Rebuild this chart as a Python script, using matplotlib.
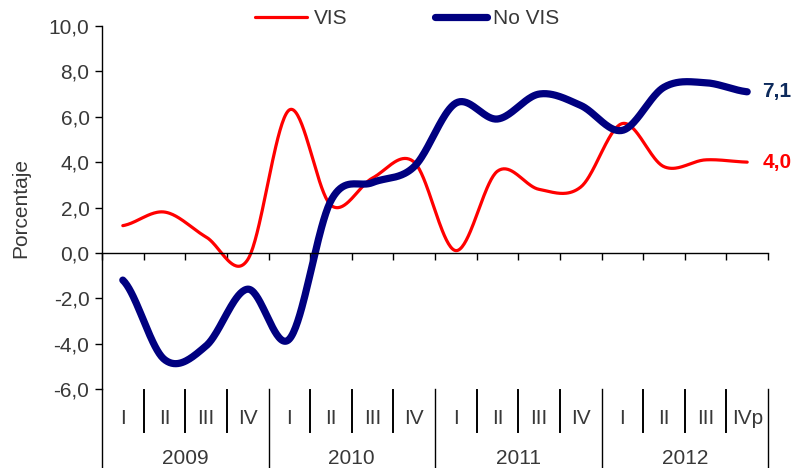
import numpy as np
import matplotlib as mpl

mpl.use("Agg")
import matplotlib.pyplot as plt
from matplotlib.lines import Line2D
from matplotlib.transforms import blended_transform_factory

plt.rcParams["font.family"] = ["Liberation Sans", "DejaVu Sans"]

# data (percent)
quarters = ["I", "II", "III", "IV"] * 3 + ["I", "II", "III", "IVp"]
years = ["2009", "2010", "2011", "2012"]
vis = [1.2, 1.8, 0.7, -0.3, 6.3, 2.1, 3.3, 4.0,
       0.1, 3.6, 2.8, 2.9, 5.7, 3.8, 4.1, 4.0]
no_vis = [-1.2, -4.7, -4.1, -1.6, -3.8, 2.3, 3.1, 3.8,
          6.6, 5.9, 7.0, 6.5, 5.4, 7.3, 7.5, 7.1]

W, H = 794, 468
TXT = "#383838"
FS = 15


def smooth(y, n=40):
    """Catmull-Rom curve through the points (like Excel's smoothed line)."""
    y = np.asarray(y, dtype=float)
    ext = np.r_[y[0], y, y[-1]]
    t = np.linspace(0, 1, n, endpoint=False)
    xs, ys = [], []
    for i in range(len(y) - 1):
        p0, p1, p2, p3 = ext[i:i + 4]
        ys.append(0.5 * (2 * p1 + (p2 - p0) * t + (2 * p0 - 5 * p1 + 4 * p2 - p3) * t ** 2
                         + (3 * p1 - p0 - 3 * p2 + p3) * t ** 3))
        xs.append(i + 0.5 + t)
    xs.append([len(y) - 0.5])
    ys.append([y[-1]])
    return np.concatenate(xs), np.concatenate(ys)


def fy(px):
    return 1 - px / H


fig = plt.figure(figsize=(W / 100, H / 100), dpi=100)
ax = fig.add_axes([102 / W, fy(389), 666 / W, (389 - 26) / H])

x, y = smooth(vis)
ax.plot(x, y, color="#ff0000", lw=2.3, label="VIS", solid_capstyle="round")
x, y = smooth(no_vis)
ax.plot(x, y, color="#000080", lw=5.2, label="No VIS", solid_capstyle="round")

ax.set_xlim(0, len(quarters))
ax.set_ylim(-6, 10)
ax.set_yticks(np.arange(-6, 11, 2))
ax.set_yticklabels([f"{v:.1f}".replace(".", ",") for v in np.arange(-6, 11, 2)])
ax.set_xticks(np.arange(0, len(quarters) + 1))
ax.set_xticklabels([])
ax.tick_params(axis="y", direction="out", length=5, width=1, labelsize=FS,
               labelcolor=TXT, pad=4)
ax.tick_params(axis="x", direction="out", length=5, width=1)
for s in ("top", "right"):
    ax.spines[s].set_visible(False)
ax.spines["bottom"].set_position(("data", 0))
ax.spines["left"].set_linewidth(1)
ax.spines["bottom"].set_linewidth(1)
ax.set_ylabel("Porcentaje", fontsize=FS, color=TXT, labelpad=13)

# end-of-series labels
ax.annotate(f"{no_vis[-1]:.1f}".replace(".", ","), (len(no_vis) - 0.5, no_vis[-1]),
            xytext=(11, 0), textcoords="offset points", va="center",
            fontsize=FS, fontweight="bold", color="#0d2a5c")
ax.annotate(f"{vis[-1]:.1f}".replace(".", ","), (len(vis) - 0.5, vis[-1]),
            xytext=(11, 0), textcoords="offset points", va="center",
            fontsize=FS, fontweight="bold", color="#ff0000")

leg = ax.legend(loc="center", ncol=2, frameon=False, fontsize=FS,
                handlelength=2.5, handletextpad=0.3, columnspacing=4.2,
                bbox_to_anchor=(0.513, fy(19)), bbox_transform=fig.transFigure)
for t in leg.get_texts():
    t.set_color(TXT)

# category table below the plot
tr = blended_transform_factory(ax.transData, fig.transFigure)
for i in range(len(quarters) + 1):
    if i % 4 == 0:
        fig.add_artist(Line2D([i, i], [fy(389), fy(468)], color="black", lw=1, transform=tr))
    else:
        fig.add_artist(Line2D([i, i], [fy(390), fy(432)], color="black", lw=1.4, transform=tr))
for i, q in enumerate(quarters):
    fig.text(i + 0.5, fy(418), q, transform=tr, ha="center", va="center",
             fontsize=FS, color=TXT)
for j, yr in enumerate(years):
    fig.text(4 * j + 2, fy(458), yr, transform=tr, ha="center", va="center",
             fontsize=FS, color=TXT)

fig.savefig("out.png", dpi=100)
